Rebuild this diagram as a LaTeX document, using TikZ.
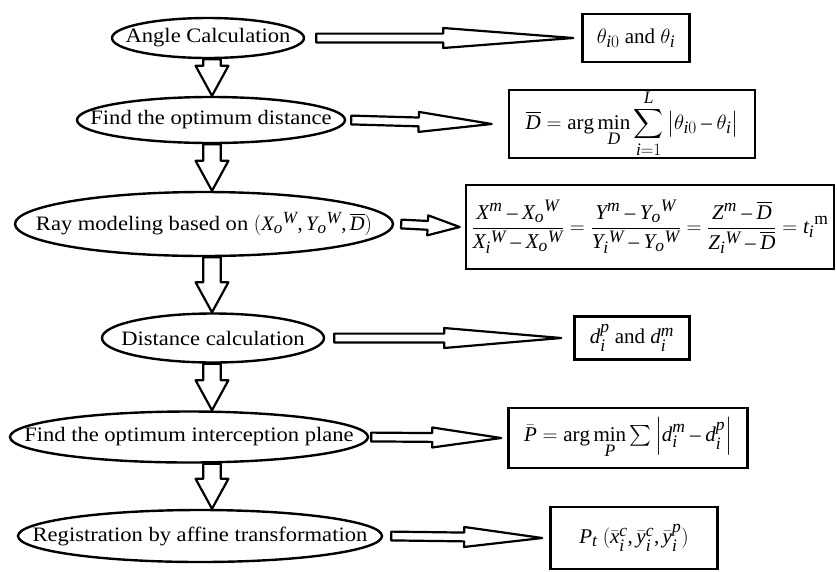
\documentclass[tikz,border=0pt]{standalone}
\usepackage{fontspec}
\setmainfont{Liberation Serif}
\newfontfamily\stagefamily{Liberation Serif}[FakeStretch=1.1]
\usepackage{amsmath}
\usepackage[italic]{mathastext}
\usetikzlibrary{shapes.geometric, calc, backgrounds}
\newcommand{\flowfont}{\fontsize{21}{24}\selectfont}
\newcommand{\stagefont}{\stagefamily\fontsize{20.5}{24}\selectfont}

\begin{document}
\begin{tikzpicture}[x=1pt, y=-1pt, font=\flowfont,
  stage/.style 2 args={ellipse, draw, line width=2.4pt, fill=white, font=\stagefont,
    inner sep=0pt, minimum width=#1, minimum height=#2},
  result/.style 2 args={draw, line width=2.6pt, fill=white,
    inner sep=0pt, minimum width=#1, minimum height=#2},
  hollow/.style n args={3}{draw, line width=2.2pt, fill=white, line join=round,
    to path={($(\tikztostart)!#1!90:(\tikztotarget)$)
      -- ($(\tikztotarget)!#3!(\tikztostart)!#1!90:(\tikztotarget)$)
      -- ($(\tikztotarget)!#3!(\tikztostart)!#2!90:(\tikztotarget)$)
      -- (\tikztotarget)
      -- ($(\tikztotarget)!#3!(\tikztostart)!#2!-90:(\tikztotarget)$)
      -- ($(\tikztotarget)!#3!(\tikztostart)!#1!-90:(\tikztotarget)$)
      -- ($(\tikztostart)!#1!-90:(\tikztotarget)$) -- cycle}},
  droparrow/.style={hollow={8.8pt}{16.4pt}{30pt}},
  sidearrow/.style={hollow={4.4pt}{10pt}{#1}}]
  \useasboundingbox (0,0) rectangle (837,571);
  \coordinate (ax) at (212,0);

  \node[stage={192pt}{40pt}] (e1) at (208,38) {\makebox[0pt]{Angle Calculation}};
  \node[stage={268pt}{46pt}] (e2) at (211,120) {\makebox[0pt]{Find the optimum distance}};
  \node[stage={378pt}{64pt}] (e3) at (204,224) {\makebox[0pt]{Ray modeling based on $(X_{o}{}^{W},Y_{o}{}^{W},\overline{D})$}};
  \node[stage={222pt}{49pt}] (e4) at (213,338) {\makebox[0pt]{Distance calculation}};
  \node[stage={358pt}{51pt}] (e5) at (189,437) {\makebox[0pt]{Find the optimum interception plane}};
  \node[stage={364pt}{52pt}] (e6) at (200,536) {\makebox[0pt]{Registration by affine transformation}};

  \node[result={107pt}{48pt}] (r1) at (636,38) {$\theta_{i0}$ and $\theta_{i}$};
  \node[result={246pt}{67pt}] (r2) at (632,124) {$\displaystyle \overline{D}=\arg\min_{D}\sum_{i=1}^{L}\left|\theta_{i0}-\theta_{i}\right|$};
  \node[result={368pt}{84pt}] (r3) at (650,227) {$\displaystyle \frac{X^{m}-X_{o}{}^{W}}{X_{i}{}^{W}-X_{o}{}^{W}}=\frac{Y^{m}-Y_{o}{}^{W}}{Y_{i}{}^{W}-Y_{o}{}^{W}}=\frac{Z^{m}-\overline{D}}{Z_{i}{}^{W}-\overline{D}}=t_{i}{}^{\mathrm{m}}$};
  \node[result={115pt}{43pt}] (r4) at (632,338) {$d_{i}^{p}$ and $d_{i}^{m}$};
  \node[result={239pt}{60pt}] (r5) at (628,438) {$\displaystyle \bar{P}=\arg\min_{P}{\textstyle\sum}\left|d_{i}^{m}-d_{i}^{p}\right|$};
  \node[result={167pt}{62pt}] (r6) at (634,538) {$P_{t}\ (\bar{x}_{i}^{c},\bar{y}_{i}^{c},\bar{y}_{i}^{p})$};

  \begin{scope}[on background layer]
    \foreach \a/\b in {e1/e2, e2/e3, e3/e4, e4/e5, e5/e6}
      \draw[droparrow] (\a.south -| ax) to (\b.north -| ax);
    \draw[sidearrow=130pt] ([xshift=11pt]e1.east) to ([xshift=-8pt]r1.west);
    \draw[sidearrow=73pt] ([xshift=5pt]e2.east) to ([xshift=-16pt]r2.west);
    \draw[sidearrow=32pt] ([xshift=7pt]e3.east) to ([xshift=-5pt]r3.west);
    \draw[sidearrow=117pt] ([xshift=9pt]e4.east) to ([xshift=-12pt]r4.west);
    \draw[sidearrow=69pt] ([xshift=2pt]e5.east) to ([xshift=-6pt]r5.west);
    \draw[sidearrow=78pt] ([xshift=8pt]e6.east) to ([xshift=-7pt]r6.west);
  \end{scope}
\end{tikzpicture}
\end{document}
